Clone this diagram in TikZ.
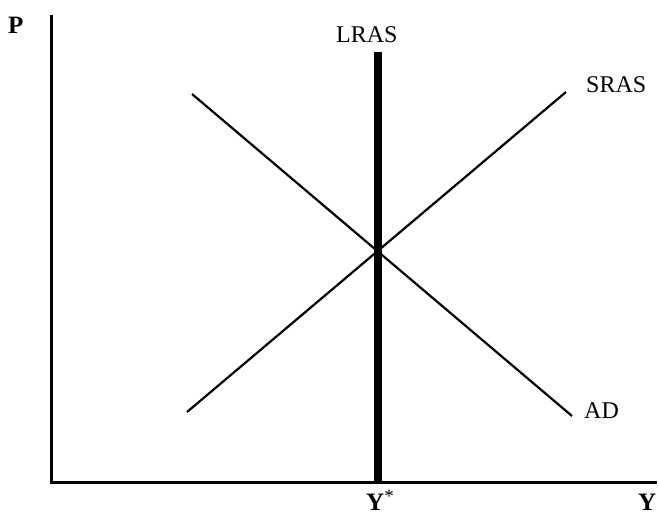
\documentclass[tikz,border=0pt]{standalone}
\usepackage{fontspec}
\setmainfont{Liberation Serif}
\begin{document}
\begin{tikzpicture}[x=1pt,y=-1pt,
  axis/.style={line width=3pt},
  curve/.style={line width=2.2pt},
  lras/.style={line width=8pt},
  lbl/.style={inner sep=0pt, anchor=base west, font=\fontsize{24}{26}\selectfont},
  blbl/.style={inner sep=0pt, anchor=base west, font=\fontsize{25}{28}\selectfont\bfseries}]
\useasboundingbox (0,0) rectangle (659,514);
\coordinate (top) at (51.5,15);
\coordinate (orig) at (51.5,482.5);
\coordinate (right) at (657,482.5);
\coordinate (lrasT) at (377.5,52);
\coordinate (lrasB) at (377.5,481);
\coordinate (adS) at (192,94);
\coordinate (adE) at (572,416);
\coordinate (srS) at (187,412);
\coordinate (srE) at (566,92);
\draw[axis, line cap=butt] (top) -- (orig) -- (right);
\draw[lras] (lrasT) -- (lrasB);
\draw[curve] (adS) -- (adE);
\draw[curve] (srS) -- (srE);
\node[blbl] (P) at (8,33) {P};
\node[lbl] (LRAS) at (336,42) {LRAS};
\node[lbl] (SRAS) at (586,92) {SRAS};
\node[lbl] (AD) at (584,418) {AD};
\node[blbl] (Ystar) at (366,510) {Y\raisebox{8pt}{\fontsize{19}{19}\selectfont\mdseries *}};
\node[blbl] (Y) at (638,510) {Y};
\end{tikzpicture}
\end{document}
